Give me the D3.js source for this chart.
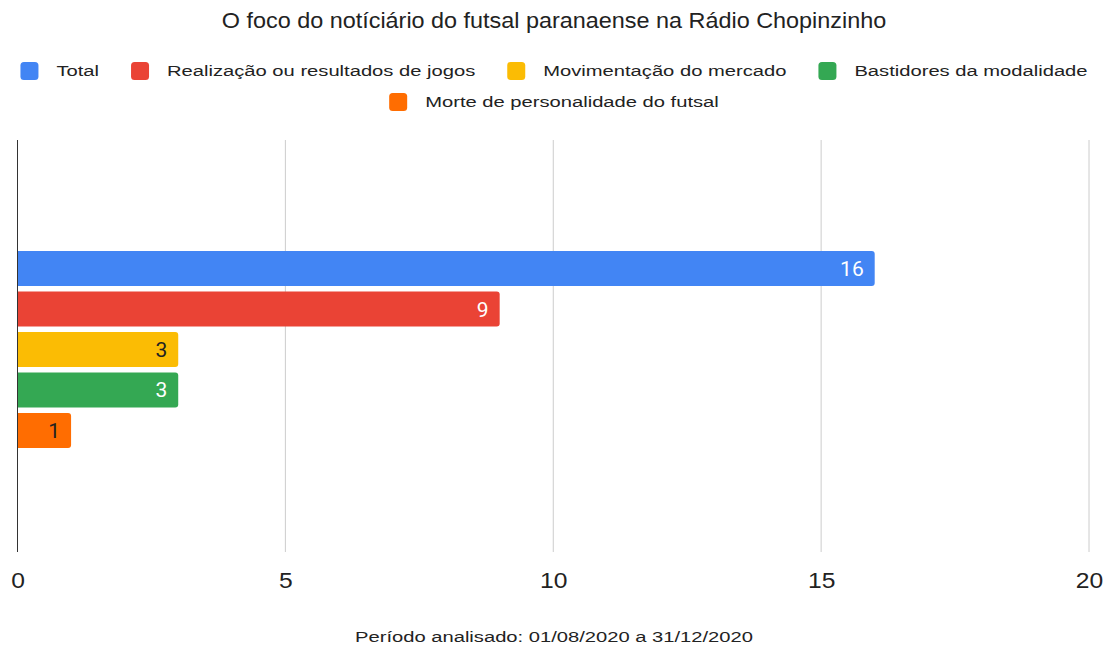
<!DOCTYPE html>
<html>
<head>
<meta charset="utf-8">
<script src="https://cdn.jsdelivr.net/npm/d3@7"></script>
<style>
    body { margin: 0; background: #fff; }
    svg { display: block; font-family: "Liberation Sans", Arial, sans-serif; }
</style>
</head>
<body>
<div id="chart"></div>
<script>
// data
var seriesNames = ["Total", "Realização ou resultados de jogos", "Movimentação do mercado", "Bastidores da modalidade", "Morte de personalidade do futsal"];
var seriesValues = [16, 9, 3, 3, 1];
var seriesColours = ["#4285f4", "#ea4335", "#fbbc04", "#34a853", "#ff6d01"];
var labelColours = ["#fff", "#fff", "#222", "#fff", "#222"];
var xTicks = [0, 5, 10, 15, 20];
var title = "O foco do notíciário do futsal paranaense na Rádio Chopinzinho";
var caption = "Período analisado: 01/08/2020 a 31/12/2020";

var width = 1111, height = 647;
var margin = { top: 140, right: 22, bottom: 95, left: 17.5 };

var svg = d3.select("#chart").append("svg")
    .attr("width", width)
    .attr("height", height);

// the reference text is a bit wider than the installed fonts, stretch it
var stretch = function (sel, k) {
    sel.each(function () {
        var w = this.getComputedTextLength();
        d3.select(this)
            .attr("textLength", w * k)
            .attr("lengthAdjust", "spacingAndGlyphs");
    });
    return sel;
};

// title
svg.append("text")
    .attr("x", 554)
    .attr("y", 28)
    .attr("text-anchor", "middle")
    .style("font-size", "22px")
    .style("fill", "#222")
    .text(title)
    .call(stretch, 1.063);

// legend - two rows, centered
var legendRows = [[0, 1, 2, 3], [4]];
var legendY = [71, 102];
var legK = 1.44;
var tmp = svg.append("text").style("font-size", "14px");
function textW(s) { tmp.text(s); return tmp.node().getComputedTextLength() * legK; }

legendRows.forEach(function (row, r) {
    var items = row.map(function (i) { return { i: i, w: 18 + 18 + textW(seriesNames[i]) }; });
    var total = d3.sum(items, function (d) { return d.w; }) + 32 * (items.length - 1);
    var x = 554 - total / 2;
    var lg = svg.append("g").attr("class", "legend");
    items.forEach(function (d) {
        lg.append("rect")
            .attr("x", x).attr("y", legendY[r] - 9)
            .attr("width", 18).attr("height", 18)
            .attr("rx", 3.5)
            .attr("fill", seriesColours[d.i]);
        lg.append("text")
            .attr("x", x + 36).attr("y", legendY[r] + 5)
            .style("font-size", "14px")
            .style("fill", "#222")
            .text(seriesNames[d.i])
            .call(stretch, legK);
        x += d.w + 32;
    });
});
tmp.remove();

// scales
var x = d3.scaleLinear()
    .domain([0, 20])
    .range([margin.left, width - margin.right]);

var y = d3.scaleBand()
    .domain(seriesNames)
    .range([251, 448])
    .paddingInner(0.135)
    .paddingOuter(0);

var plotBottom = height - margin.bottom;

// gridlines
svg.append("g").selectAll("line")
    .data(xTicks.slice(1))
    .enter().append("line")
    .attr("x1", function (d) { return x(d); })
    .attr("x2", function (d) { return x(d); })
    .attr("y1", margin.top)
    .attr("y2", plotBottom)
    .attr("stroke", "#ccc")
    .attr("stroke-width", 1);

// x axis labels
var axis = d3.axisBottom(x).tickValues(xTicks).tickSize(0).tickPadding(0);
var axG = svg.append("g")
    .attr("transform", "translate(0," + (plotBottom + 36) + ")")
    .call(axis);
axG.select(".domain").remove();
axG.selectAll("text")
    .attr("dy", null)
    .style("font-size", "22px")
    .style("font-family", "'Liberation Sans', Arial, sans-serif")
    .style("fill", "#222")
    .call(stretch, 1.12);

// bars with rounded right corners
function barPath(x0, x1, y0, h, r) {
    return "M" + x0 + "," + y0 +
        "H" + (x1 - r) +
        "Q" + x1 + "," + y0 + " " + x1 + "," + (y0 + r) +
        "V" + (y0 + h - r) +
        "Q" + x1 + "," + (y0 + h) + " " + (x1 - r) + "," + (y0 + h) +
        "H" + x0 + "Z";
}

svg.append("g").selectAll(".bar")
    .data(seriesValues)
    .enter().append("path")
    .attr("class", "bar")
    .attr("fill", function (d, i) { return seriesColours[i]; })
    .attr("d", function (d, i) {
        return barPath(x(0), x(d), y(seriesNames[i]), y.bandwidth(), 3);
    });

// value labels
svg.append("g").selectAll(".lbl")
    .data(seriesValues)
    .enter().append("text")
    .attr("class", "lbl")
    .attr("x", function (d) { return x(d) - 11; })
    .attr("y", function (d, i) { return y(seriesNames[i]) + y.bandwidth() / 2 + 7.5; })
    .attr("text-anchor", "end")
    .style("font-family", "Roboto, sans-serif")
    .style("font-size", "21px")
    .style("fill", function (d, i) { return labelColours[i]; })
    .text(function (d) { return d; });

// zero line
svg.append("line")
    .attr("x1", x(0)).attr("x2", x(0))
    .attr("y1", margin.top).attr("y2", plotBottom)
    .attr("stroke", "#333")
    .attr("stroke-width", 1);

// caption
svg.append("text")
    .attr("x", 554)
    .attr("y", 642)
    .attr("text-anchor", "middle")
    .style("font-size", "14px")
    .style("fill", "#222")
    .text(caption)
    .call(stretch, 1.44);
</script>
</body>
</html>
